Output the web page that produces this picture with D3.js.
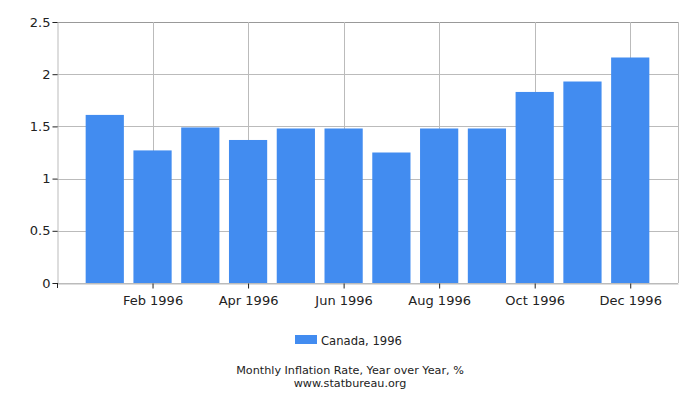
<!DOCTYPE html>
<html>
<head>
<meta charset="utf-8">
<script src="https://cdn.jsdelivr.net/npm/d3@7"></script>
<style>
  body { margin: 0; background: #fff; }
  text { font-family: "DejaVu Sans", sans-serif; fill: #222; }
</style>
</head>
<body>
<div class="chart"></div>
<script>
let months = ["Jan 1996", "Feb 1996", "Mar 1996", "Apr 1996", "May 1996", "Jun 1996",
              "Jul 1996", "Aug 1996", "Sep 1996", "Oct 1996", "Nov 1996", "Dec 1996"];
let rates = [1.61, 1.27, 1.49, 1.37, 1.48, 1.48, 1.25, 1.48, 1.48, 1.83, 1.93, 2.16];
let yTicks = [0, 0.5, 1, 1.5, 2, 2.5];
let seriesName = "Canada, 1996";
let title = "Monthly Inflation Rate, Year over Year, %";
let source = "www.statbureau.org";

let margin = { top: 22, right: 22, bottom: 117, left: 57 };
let width  = 700 - margin.left - margin.right;
let height = 400 - margin.top - margin.bottom;
let color = "#428cf0";

let svg = d3.select(".chart")
    .append("svg")
        .attr("width", 700)
        .attr("height", 400);

let g = svg.append("g")
    .attr("transform", `translate(${margin.left}, ${margin.top})`);

let xScale = d3.scalePoint()
    .domain(months)
    .range([0, width])
    .padding(1);

let yScale = d3.scaleLinear()
    .domain([0, 2.5])
    .range([height, 0]);

let labelled = months.filter((d, i) => i % 2 == 1);

// grid
g.selectAll(".hgrid")
    .data(yTicks)
    .enter()
    .append("line")
    .attr("x1", 0).attr("x2", width)
    .attr("y1", d => Math.round(yScale(d)) + 0.5)
    .attr("y2", d => Math.round(yScale(d)) + 0.5)
    .attr("stroke", (d, i) => i == yTicks.length - 1 ? "#999" : "#bbb");

g.selectAll(".vgrid")
    .data(labelled)
    .enter()
    .append("line")
    .attr("x1", d => Math.round(xScale(d)) + 0.5)
    .attr("x2", d => Math.round(xScale(d)) + 0.5)
    .attr("y1", 0).attr("y2", height)
    .attr("stroke", "#bbb");

g.append("line")
    .attr("x1", width + 0.5).attr("x2", width + 0.5)
    .attr("y1", 0).attr("y2", height)
    .attr("stroke", "#bbb");

// bars
let barW = xScale.step() * 0.8;
g.selectAll("rect.bar")
    .data(rates)
    .enter()
    .append("rect")
    .attr("class", "bar")
    .attr("x", (d, i) => xScale(months[i]) - barW / 2)
    .attr("y", d => yScale(d))
    .attr("width", barW)
    .attr("height", d => height - yScale(d))
    .attr("fill", color);

// axes
let yAxis = d3.axisLeft(yScale)
    .tickValues(yTicks)
    .tickFormat(d => d)
    .tickSize(5)
    .tickPadding(2);
let yG = g.append("g")
    .attr("transform", "translate(0.5, 0)")
    .call(yAxis);
yG.select(".domain").attr("stroke", "#bbb");
yG.selectAll(".tick line").attr("stroke", "#222");
yG.selectAll("text").style("font-size", "13px");

let xAxis = d3.axisBottom(xScale)
    .tickValues(labelled)
    .tickSize(5)
    .tickPadding(7)
    .tickSizeOuter(0);
let xG = g.append("g")
    .attr("transform", `translate(0, ${height + 0.5})`)
    .call(xAxis);
xG.select(".domain").attr("stroke", "#bbb");
xG.selectAll(".tick line").attr("stroke", "#222");
xG.selectAll("text").style("font-size", "13px");

g.append("line")
    .attr("x1", 0.5).attr("x2", 0.5)
    .attr("y1", height).attr("y2", height + 5)
    .attr("stroke", "#222");

// legend
svg.append("rect")
    .attr("x", 295).attr("y", 335)
    .attr("width", 22).attr("height", 9)
    .attr("fill", color);
svg.append("text")
    .attr("x", 321).attr("y", 344.5)
    .style("font-size", "11.6px")
    .text(seriesName);

svg.append("text")
    .attr("x", 350).attr("y", 374)
    .attr("text-anchor", "middle")
    .style("font-size", "11.2px")
    .text(title);
svg.append("text")
    .attr("x", 350).attr("y", 387)
    .attr("text-anchor", "middle")
    .style("font-size", "11.2px")
    .text(source);
</script>
</body>
</html>
